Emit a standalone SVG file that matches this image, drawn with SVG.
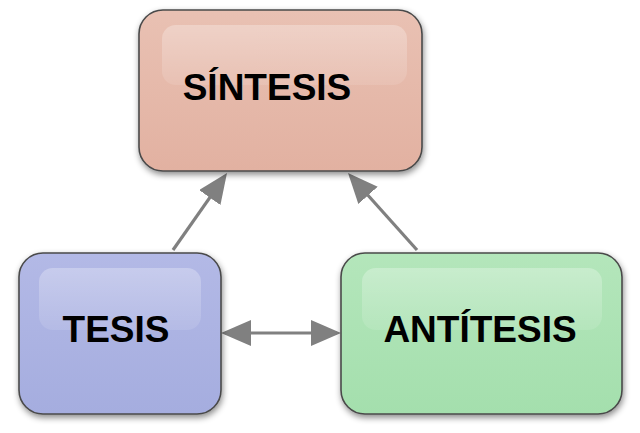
<svg xmlns="http://www.w3.org/2000/svg" width="640" height="433" viewBox="0 0 640 433">
  <defs>
    <style>
      .box { stroke: #4a4a4a; stroke-width: 1.6; }
      .gloss { stroke: none; }
      .label { font-family: "Liberation Sans", Arial, sans-serif; font-weight: bold; font-size: 37px; fill: #000; text-anchor: middle; }
      .conn { stroke: #808080; stroke-width: 3.2; fill: none; }
    </style>
    <filter id="shadow" x="-10%" y="-10%" width="125%" height="130%">
      <feDropShadow dx="1" dy="3" stdDeviation="3" flood-color="#000" flood-opacity="0.45"/>
    </filter>
    <linearGradient id="gS" x1="0" y1="0" x2="0" y2="1">
      <stop offset="0" stop-color="#e9c1b3"/>
      <stop offset="1" stop-color="#e2b1a1"/>
    </linearGradient>
    <linearGradient id="gT" x1="0" y1="0" x2="0" y2="1">
      <stop offset="0" stop-color="#b3b9e6"/>
      <stop offset="1" stop-color="#a5addf"/>
    </linearGradient>
    <linearGradient id="gA" x1="0" y1="0" x2="0" y2="1">
      <stop offset="0" stop-color="#b4e6bb"/>
      <stop offset="1" stop-color="#a4dfad"/>
    </linearGradient>
    <linearGradient id="gloss" x1="0" y1="0" x2="0" y2="1">
      <stop offset="0" stop-color="#ffffff" stop-opacity="0.28"/>
      <stop offset="1" stop-color="#ffffff" stop-opacity="0.1"/>
    </linearGradient>
    <marker id="arrow" viewBox="0 0 30 26" refX="26" refY="13" markerWidth="30" markerHeight="26" markerUnits="userSpaceOnUse" orient="auto-start-reverse">
      <path d="M0,0 L30,13 L0,26 z" fill="#808080"/>
    </marker>
  </defs>
  <rect width="640" height="433" fill="#ffffff"/>

  <g id="connectors">
    <line class="conn" x1="173" y1="250" x2="224.7" y2="176.3" marker-end="url(#arrow)"/>
    <line class="conn" x1="417" y1="250" x2="350.7" y2="176" marker-end="url(#arrow)"/>
    <line class="conn" x1="225" y1="333" x2="337" y2="333" marker-start="url(#arrow)" marker-end="url(#arrow)"/>
  </g>

  <g id="sintesis">
    <rect class="box" x="139" y="10" width="283" height="161" rx="24" fill="url(#gS)" filter="url(#shadow)"/>
    <rect class="gloss" x="162" y="25" width="245" height="60" rx="14" fill="url(#gloss)"/>
    <text class="label" x="267" y="100">SÍNTESIS</text>
  </g>

  <g id="tesis">
    <rect class="box" x="19" y="253" width="202" height="161" rx="24" fill="url(#gT)" filter="url(#shadow)"/>
    <rect class="gloss" x="39" y="268" width="162" height="62" rx="14" fill="url(#gloss)"/>
    <text class="label" x="116" y="342">TESIS</text>
  </g>

  <g id="antitesis">
    <rect class="box" x="341" y="253" width="281" height="161" rx="24" fill="url(#gA)" filter="url(#shadow)"/>
    <rect class="gloss" x="362" y="268" width="240" height="62" rx="14" fill="url(#gloss)"/>
    <text class="label" x="480" y="342">ANTÍTESIS</text>
  </g>
</svg>
